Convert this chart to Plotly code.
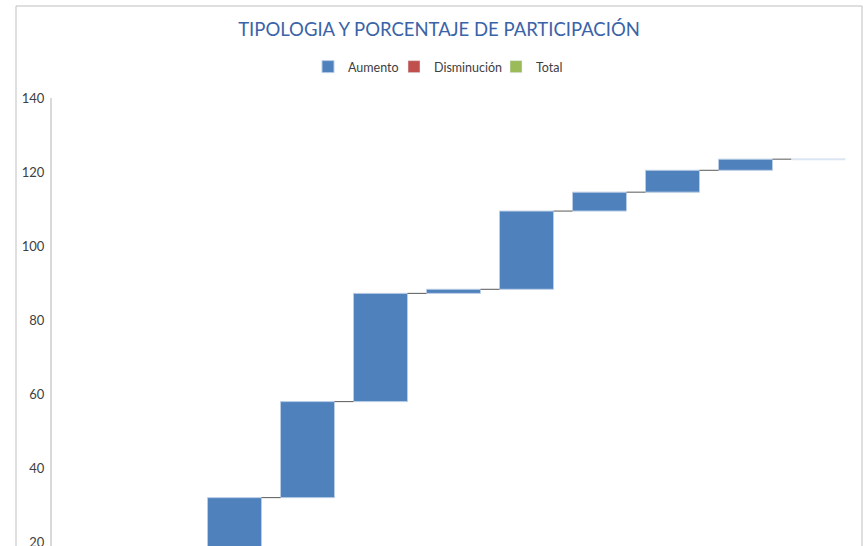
import plotly.graph_objects as go

# ---- data ----
categories = ["C1", "C2", "C3", "C4", "C5", "C6", "C7", "C8", "C9", "C10", "Total"]
increments = [8.0, 10.0, 14.2, 25.9, 29.2, 1.1, 21.1, 5.1, 5.9, 3.0]
y_ticks = [0, 20, 40, 60, 80, 100, 120, 140]
legend_names = ["Aumento", "Disminución", "Total"]
legend_colors = ["#4F81BD", "#C0504D", "#9BBB59"]

# ---- derived ----
n = len(categories)
idx = list(range(n))
bases, tops = [], []
run = 0.0
for v in increments:
    bases.append(run)
    run += v
    tops.append(run)
total_value = run

H = 680
top, bottom_px = 98, 617
ml, plot_right = 52, 855
pw = plot_right - ml
ph = bottom_px - top

W = 0.74
fig = go.Figure()

fig.add_trace(go.Bar(
    x=idx[:len(increments)], y=increments, base=bases, width=W,
    name=legend_names[0], legend="legend",
    marker=dict(color=legend_colors[0], line=dict(color="#B9CDE5", width=1)),
    hoverinfo="skip",
))
fig.add_trace(go.Bar(
    x=[None], y=[None], name=legend_names[1], legend="legend2",
    marker=dict(color=legend_colors[1]),
))
fig.add_trace(go.Bar(
    x=[None], y=[None], name=legend_names[2], legend="legend3",
    marker=dict(color=legend_colors[2]),
))

# connectors
cx, cy = [], []
for i in range(n - 1):
    lvl = tops[i]
    cx += [i + W / 2, i + 1 - W / 2, None]
    cy += [lvl, lvl, None]
fig.add_trace(go.Scatter(
    x=cx, y=cy, mode="lines", line=dict(color="#595959", width=1),
    showlegend=False, hoverinfo="skip",
))
# total marker (thin line at the final level)
ti = n - 1
fig.add_trace(go.Scatter(
    x=[ti - W / 2, ti + W / 2], y=[total_value, total_value], mode="lines",
    line=dict(color="#DCE6F2", width=2), showlegend=False, hoverinfo="skip",
))


def leg(px_left):
    return dict(
        orientation="h", x=(px_left - ml) / pw, xanchor="left",
        y=(bottom_px - 67) / ph, yanchor="middle",
        font=dict(size=12.5, color="#404040"), bgcolor="rgba(0,0,0,0)",
        itemwidth=30,
    )


legend_lefts = [308, 394, 496]
fig.update_layout(
    width=867, height=H,
    margin=dict(l=ml, r=867 - plot_right, t=top, b=H - bottom_px),
    paper_bgcolor="white", plot_bgcolor="white",
    font=dict(family="Lato, Open Sans, sans-serif", color="#404040", size=13),
    title=dict(
        text="TIPOLOGIA Y PORCENTAJE DE PARTICIPACIÓN",
        x=439 / 867, xanchor="center", y=1 - 30 / H, yanchor="middle",
        font=dict(size=18.5, color="#3A63A8", family="Lato, Open Sans, sans-serif"),
    ),
    legend=leg(legend_lefts[0]),
    legend2=leg(legend_lefts[1]),
    legend3=leg(legend_lefts[2]),
    barmode="overlay",
    showlegend=True,
    xaxis=dict(
        range=[-0.5, n - 0.5], tickvals=idx, ticktext=categories,
        showticklabels=False, showgrid=False, zeroline=False, showline=False,
        ticks="",
    ),
    yaxis=dict(
        range=[0, 140], tickvals=y_ticks, showgrid=False, zeroline=False,
        showline=True, linecolor="#D9D9D9", linewidth=2, ticks="",
        ticklabelstandoff=3,
        tickfont=dict(size=13, color="#404040"),
    ),
    shapes=[dict(
        type="rect", xref="paper", yref="paper",
        x0=(16 - ml) / pw, x1=(862 - ml) / pw,
        y0=(bottom_px - 672) / ph, y1=(bottom_px - 6) / ph,
        line=dict(color="#BFBFBF", width=1), fillcolor="rgba(0,0,0,0)", layer="below",
    )],
)

fig.write_html("out.html", config={"displayModeBar": False},
               post_script="document.body.style.margin='0';")
